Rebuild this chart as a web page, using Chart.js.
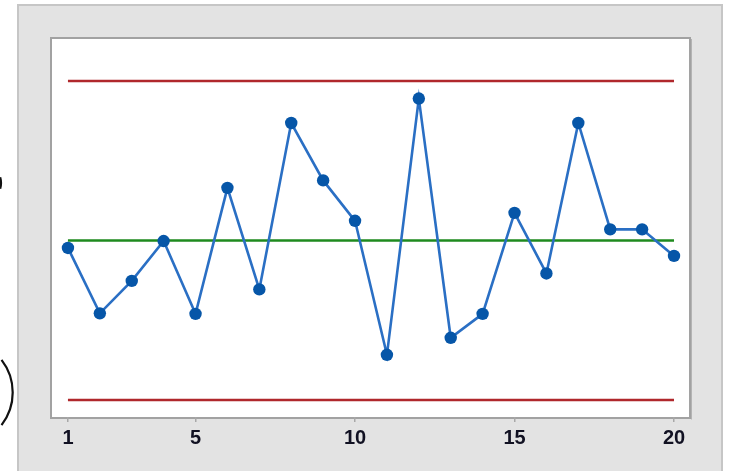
<!DOCTYPE html>
<html>
<head>
<meta charset="utf-8">
<script src="https://cdn.jsdelivr.net/npm/chart.js@4/dist/chart.umd.min.js"></script>
<style>
html,body{margin:0;padding:0;background:#fff;}
#wrap{width:731px;height:471px;position:relative;}
</style>
</head>
<body>
<div id="wrap"><canvas id="c" width="731" height="471"></canvas></div>
<script>
const observations = [1,2,3,4,5,6,7,8,9,10,11,12,13,14,15,16,17,18,19,20];
const values = [48.6,36.3,42.4,49.9,36.2,59.9,40.8,72.1,61.3,53.7,28.5,76.7,31.7,36.2,55.2,43.8,72.1,52.1,52.1,47.1];
const centerLine = 50;
const upperLimit = 80;
const lowerLimit = 20;
const tickLabels = [1,5,10,15,20];

const firstObs = observations[0];
const lastObs = observations[observations.length-1];

const framePlugin = {
  id:'frame',
  beforeDraw(chart){
    const ctx = chart.ctx;
    const a = chart.chartArea;
    ctx.save();
    ctx.fillStyle = '#ffffff';
    ctx.fillRect(0,0,chart.width,chart.height);
    // outer grey panel
    ctx.fillStyle = '#e3e3e3';
    ctx.fillRect(17,4,706,467);
    ctx.strokeStyle = '#c6c6c6';
    ctx.lineWidth = 2;
    ctx.beginPath();
    ctx.moveTo(18,471);ctx.lineTo(18,5);ctx.lineTo(722,5);ctx.lineTo(722,471);
    ctx.stroke();
    // plot box
    ctx.fillStyle = '#ffffff';
    ctx.fillRect(a.left, a.top, a.right-a.left, a.bottom-a.top);
    ctx.strokeStyle = '#a2a2a2';
    ctx.lineWidth = 2;
    ctx.strokeRect(a.left-1, a.top-1, a.right-a.left+2, a.bottom-a.top+2);
    ctx.strokeStyle = '#b4b4b4';
    ctx.lineWidth = 1;
    ctx.beginPath();
    ctx.moveTo(a.right+2.5, a.top);ctx.lineTo(a.right+2.5, a.bottom+2.5);
    ctx.stroke();
    // cut-off annotation marks at left edge
    ctx.strokeStyle = '#111';
    ctx.lineWidth = 2.2;
    ctx.beginPath();
    ctx.arc(-40.5, 392.5, 53.2, -0.66, 0.66);
    ctx.stroke();
    ctx.beginPath();
    ctx.arc(-20, 183, 21, -0.28, 0.28);
    ctx.stroke();
    ctx.restore();
  }
};

new Chart(document.getElementById('c'), {
  type:'line',
  data:{
    datasets:[
      {
        label:'UCL',
        data:[{x:firstObs,y:upperLimit},{x:lastObs,y:upperLimit}],
        borderColor:'#b0282c',
        borderWidth:2.5,
        pointRadius:0,
        order:3
      },
      {
        label:'LCL',
        data:[{x:firstObs,y:lowerLimit},{x:lastObs,y:lowerLimit}],
        borderColor:'#b0282c',
        borderWidth:2.5,
        pointRadius:0,
        order:3
      },
      {
        label:'CL',
        data:[{x:firstObs,y:centerLine},{x:lastObs,y:centerLine}],
        borderColor:'#1e8a1e',
        borderWidth:2.5,
        pointRadius:0,
        order:2
      },
      {
        label:'Individual value',
        data:observations.map((o,i)=>({x:o,y:values[i]})),
        borderColor:'#2a6fc4',
        borderWidth:2.6,
        pointRadius:6.2,
        pointBackgroundColor:'#0656a8',
        pointBorderColor:'#0656a8',
        pointBorderWidth:0,
        tension:0,
        order:1
      }
    ]
  },
  options:{
    responsive:false,
    animation:false,
    events:[],
    layout:{padding:{left:52,right:42,top:39,bottom:0}},
    plugins:{legend:{display:false},tooltip:{enabled:false}},
    scales:{
      x:{
        type:'linear',
        min:0.5,
        max:20.47,
        afterBuildTicks:(s)=>{ s.ticks = tickLabels.map(v=>({value:v})); },
        afterFit:(s)=>{ s.height = 54; },
        border:{display:false},
        grid:{drawOnChartArea:false, drawTicks:true, tickLength:5, color:'#a8a8a8', lineWidth:1.5},
        ticks:{
          color:'#111122',
          padding:4,
          maxRotation:0,
          autoSkip:false,
          font:{family:'Liberation Sans', size:20, weight:'bold'},
          callback:(v)=>String(v)
        }
      },
      y:{
        display:false,
        min:16.8,
        max:87.9
      }
    }
  },
  plugins:[framePlugin]
});
</script>
</body>
</html>
